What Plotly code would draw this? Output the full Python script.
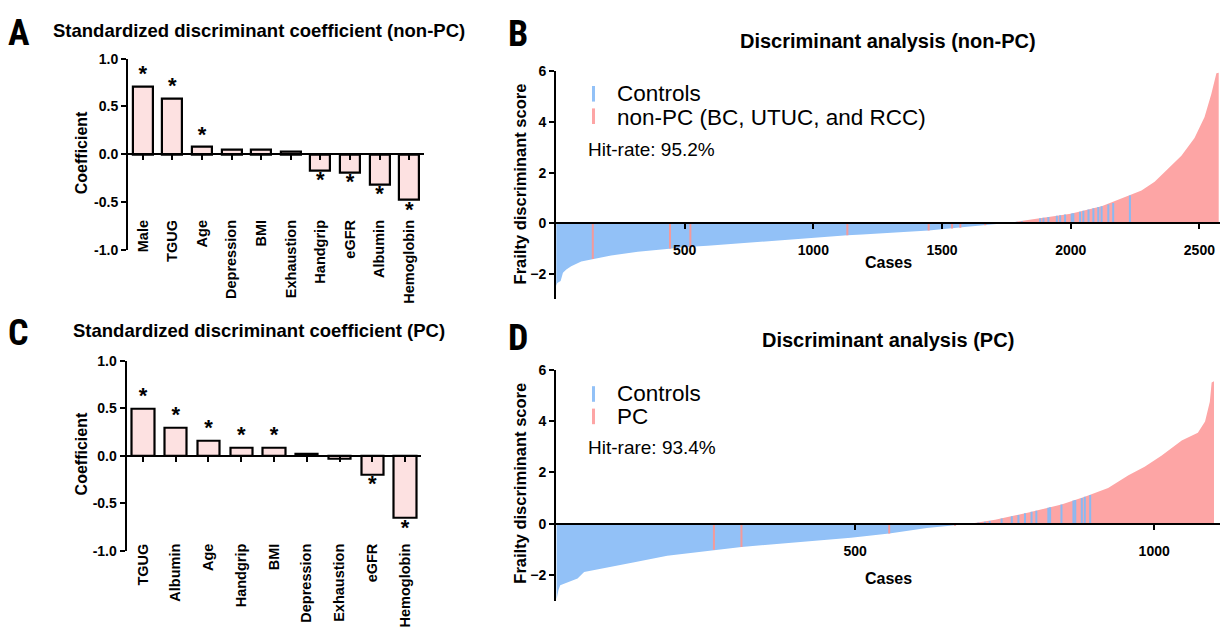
import plotly.graph_objects as go

W, H = 1225, 633

# ---------------- data ----------------
a_vars = ["Male", "TGUG", "Age", "Depression", "BMI", "Exhaustion", "Handgrip", "eGFR", "Albumin", "Hemoglobin"]
a_coef = [0.71, 0.585, 0.075, 0.05, 0.05, 0.03, -0.17, -0.19, -0.32, -0.48]
a_sig = [True, True, True, False, False, False, True, True, True, True]

c_vars = ["TGUG", "Albumin", "Age", "Handgrip", "BMI", "Depression", "Exhaustion", "eGFR", "Hemoglobin"]
c_coef = [0.494, 0.30, 0.157, 0.085, 0.085, 0.02, -0.03, -0.195, -0.655]
c_sig = [True, True, True, True, True, False, False, True, True]

coef_ticks = [-1.0, -0.5, 0.0, 0.5, 1.0]
coef_ticktext = ["-1.0", "-0.5", "0.0", "0.5", "1.0"]

# Panel B: sorted frailty discriminant scores
b_ctrl_case = [1, 5, 18, 27, 40, 59, 98, 143, 214, 318, 443, 522, 589, 750, 892, 1132, 1190, 1229, 1448, 1577, 1668, 1733]
b_ctrl_score = [-2.46, -2.35, -2.27, -1.95, -1.82, -1.69, -1.50, -1.40, -1.27, -1.12, -0.99, -0.92, -0.88, -0.76, -0.63, -0.47, -0.44, -0.42, -0.28, -0.15, -0.07, 0.0]
b_case_case = [1733, 1780, 1860, 2000, 2120, 2229, 2275, 2326, 2378, 2430, 2481, 2520, 2546, 2566, 2575]
b_case_score = [0.0, 0.05, 0.17, 0.38, 0.68, 1.10, 1.30, 1.64, 2.15, 2.67, 3.37, 4.20, 5.10, 5.93, 5.95]
b_mis_case = [143, 443, 522, 1132, 1448, 1539, 1571, 1668]
b_mis_score = [-1.40, -0.99, -0.92, -0.47, -0.28, -0.20, -0.17, -0.07]
b_mis_ctrl = [1771, 1790, 1810, 1881, 1894, 1913, 1946, 1959, 1978, 2004, 2010, 2036, 2049, 2069, 2088, 2107, 2120, 2146, 2165, 2230]
b_mis_ctrl_score = [0.04, 0.07, 0.09, 0.20, 0.22, 0.25, 0.30, 0.32, 0.35, 0.39, 0.40, 0.46, 0.50, 0.55, 0.60, 0.65, 0.68, 0.75, 0.81, 1.10]

# Panel D
d_ctrl_case = [1, 4, 7, 20, 36, 47, 75, 131, 186, 264, 310, 364, 493, 557, 620, 692]
d_ctrl_score = [-2.95, -2.60, -2.40, -2.27, -2.14, -1.88, -1.76, -1.50, -1.25, -1.02, -0.91, -0.80, -0.55, -0.38, -0.17, 0.0]
d_case_case = [692, 734, 790, 845, 884, 923, 957, 984, 1012, 1046, 1073, 1085, 1093, 1096, 1100]
d_case_score = [0.0, 0.15, 0.43, 0.75, 1.05, 1.39, 1.88, 2.22, 2.64, 3.24, 3.54, 3.98, 4.75, 5.50, 5.55]
d_mis_case = [264, 310, 557, 667]
d_mis_score = [-1.02, -0.91, -0.38, -0.08]
d_mis_ctrl = [706, 717, 725, 745, 762, 773, 784, 795, 803, 823, 826, 845, 865, 868, 879, 884, 893]
d_mis_ctrl_score = [0.04, 0.07, 0.10, 0.20, 0.29, 0.34, 0.40, 0.46, 0.50, 0.62, 0.64, 0.75, 0.90, 0.92, 1.00, 1.05, 1.12]

score_ticks = [-2, 0, 2, 4, 6]
b_xticks = [500, 1000, 1500, 2000, 2500]
d_xticks = [500, 1000]

# ---------------- style ----------------
BLUE = "#92c1f7"
RED = "#fda5a5"
PINK = "#fde1e1"
ARIAL = "Liberation Sans"
COND = "Roboto Condensed"


def px_x(p):
    return p / W


def px_y(p):
    return 1 - p / H


fig = go.Figure()


# --- bar panels A and C ---
def coef_panel(cats, vals, sig, xa, ya):
    fig.add_trace(go.Bar(x=cats, y=vals, xaxis=xa, yaxis=ya, width=0.68,
                         marker=dict(color=PINK, line=dict(color="black", width=2.2)),
                         showlegend=False, hoverinfo="skip"))
    fig.add_trace(go.Scatter(x=cats, y=vals, xaxis=xa, yaxis=ya, mode="text",
                             text=["*" if s else "" for s in sig],
                             textposition=["top center" if v > 0 else "bottom center" for v in vals],
                             textfont=dict(size=22, color="black", family=ARIAL, weight="bold"),
                             cliponaxis=False, showlegend=False, hoverinfo="skip"))


coef_panel(a_vars, a_coef, a_sig, "x", "y")
coef_panel(c_vars, c_coef, c_sig, "x3", "y3")


# --- waterfall panels B and D ---
def stripes(cases, scores):
    xs, ys = [], []
    for c, s in zip(cases, scores):
        xs += [c, c, None]
        ys += [0, s, None]
    return xs, ys


def score_panel(cc, cs, kc, ks, mc, ms, mk, mks, xa, ya):
    fig.add_trace(go.Scatter(x=cc, y=cs, xaxis=xa, yaxis=ya, mode="lines", fill="tozeroy",
                             fillcolor=BLUE, line=dict(width=0, color=BLUE),
                             showlegend=False, hoverinfo="skip"))
    fig.add_trace(go.Scatter(x=kc, y=ks, xaxis=xa, yaxis=ya, mode="lines", fill="tozeroy",
                             fillcolor=RED, line=dict(width=0, color=RED),
                             showlegend=False, hoverinfo="skip"))
    sx, sy = stripes(mc, ms)
    fig.add_trace(go.Scatter(x=sx, y=sy, xaxis=xa, yaxis=ya, mode="lines",
                             line=dict(width=2, color="#f49a9a"), connectgaps=False,
                             showlegend=False, hoverinfo="skip"))
    sx, sy = stripes(mk, mks)
    fig.add_trace(go.Scatter(x=sx, y=sy, xaxis=xa, yaxis=ya, mode="lines",
                             line=dict(width=2, color="#8ab9f2"), connectgaps=False,
                             showlegend=False, hoverinfo="skip"))


score_panel(b_ctrl_case, b_ctrl_score, b_case_case, b_case_score, b_mis_case, b_mis_score,
            b_mis_ctrl, b_mis_ctrl_score, "x2", "y2")
score_panel(d_ctrl_case, d_ctrl_score, d_case_case, d_case_score, d_mis_case, d_mis_score,
            d_mis_ctrl, d_mis_ctrl_score, "x4", "y4")


# ---------------- axes ----------------
def zero_pos(dom, rng):
    return dom[0] + (0 - rng[0]) / (rng[1] - rng[0]) * (dom[1] - dom[0])


axis_common = dict(showgrid=False, zeroline=False, showline=True, linecolor="black",
                   linewidth=2, ticks="outside", tickwidth=2, ticklen=5, tickcolor="black")

a_xdom = [px_x(128), px_x(424)]
a_ydom = [px_y(248), px_y(52)]
a_rng = [-1, 1]
c_xdom = [px_x(126.6), px_x(421.4)]
c_ydom = [px_y(557), px_y(362)]
b_xdom = [px_x(556), px_x(1220)]
b_ydom = [px_y(299), px_y(65)]
s_rng = [-3, 6]
d_xdom = [px_x(556), px_x(1220)]
d_ydom = [px_y(608), px_y(371)]

cat_font = dict(family=ARIAL, size=14.5, color="black", weight="bold")
num_font = dict(family=ARIAL, size=14, color="black", weight="bold")
sc_font = dict(family=ARIAL, size=14, color="black", weight="bold")

fig.update_layout(
    xaxis=dict(domain=a_xdom, anchor="free", position=zero_pos(a_ydom, a_rng),
               type="category", range=[-0.5, len(a_vars) - 0.5], tickangle=-90,
               tickfont=cat_font, ticklabelstandoff=54, **axis_common),
    yaxis=dict(domain=a_ydom, anchor="x", range=a_rng, tickvals=coef_ticks, ticktext=coef_ticktext,
               tickfont=num_font, **axis_common),
    xaxis3=dict(domain=c_xdom, anchor="free", position=zero_pos(c_ydom, a_rng),
                type="category", range=[-0.5, len(c_vars) - 0.5], tickangle=-90,
                tickfont=cat_font, ticklabelstandoff=76, **axis_common),
    yaxis3=dict(domain=c_ydom, anchor="x3", range=a_rng, tickvals=coef_ticks, ticktext=coef_ticktext,
                tickfont=num_font, **axis_common),
    xaxis2=dict(domain=b_xdom, anchor="free", position=zero_pos(b_ydom, s_rng),
                range=[0, 2580], tickvals=b_xticks, tickfont=sc_font, ticklabelstandoff=9,
                **axis_common),
    yaxis2=dict(domain=b_ydom, anchor="x2", range=s_rng, tickvals=score_ticks,
                tickfont=sc_font, **axis_common),
    xaxis4=dict(domain=d_xdom, anchor="free", position=zero_pos(d_ydom, s_rng),
                range=[0, 1110], tickvals=d_xticks, tickfont=sc_font, ticklabelstandoff=10,
                **axis_common),
    yaxis4=dict(domain=d_ydom, anchor="x4", range=s_rng, tickvals=score_ticks,
                tickfont=sc_font, **axis_common),
    width=W, height=H, margin=dict(l=0, r=0, t=0, b=0),
    paper_bgcolor="white", plot_bgcolor="rgba(0,0,0,0)",
    bargap=0, barmode="overlay", showlegend=False,
)

# ---------------- text ----------------
ann = []


def text(s, x, y, size, family, xanchor="center", yanchor="middle", angle=0):
    ann.append(dict(text=s, x=px_x(x), y=px_y(y), xref="paper", yref="paper", showarrow=False,
                    xanchor=xanchor, yanchor=yanchor, textangle=angle,
                    font=dict(size=size, family=family, color="black")))


# panel letters
text("<b>A</b>", 6, 26, 36, COND, xanchor="left")
text("<b>B</b>", 506, 27, 36, COND, xanchor="left")
text("<b>C</b>", 6, 333, 36, COND, xanchor="left")
text("<b>D</b>", 506, 339, 36, COND, xanchor="left")

# panel titles
text("<b>Standardized discriminant coefficient (non-PC)</b>", 51, 23, 18.5, ARIAL, xanchor="left")
text("<b>Standardized discriminant coefficient (PC)</b>", 71, 331, 18.5, ARIAL, xanchor="left")
text("<b>Discriminant analysis (non-PC)</b>", 888, 34, 20, ARIAL)
text("<b>Discriminant analysis (PC)</b>", 888, 341, 20, ARIAL)

# axis titles
text("<b>Coefficient</b>", 81, 149, 16, ARIAL, angle=-90)
text("<b>Coefficient</b>", 81, 458, 16, ARIAL, angle=-90)
text("<b>Frailty discriminant score</b>", 520, 181, 16.5, ARIAL, angle=-90)
text("<b>Frailty discriminant score</b>", 520, 488, 16.5, ARIAL, angle=-90)
text("<b>Cases</b>", 888, 261, 16, ARIAL)
text("<b>Cases</b>", 888, 585, 16, ARIAL)

# legends
text("Controls", 615, 88, 22.5, ARIAL, xanchor="left")
text("non-PC (BC, UTUC, and RCC)", 615, 112, 22.5, ARIAL, xanchor="left")
text("Hit-rate: 95.2%", 586, 145, 19, ARIAL, xanchor="left")
text("Controls", 615, 396, 22.5, ARIAL, xanchor="left")
text("PC", 615, 419, 22.5, ARIAL, xanchor="left")
text("Hit-rare: 93.4%", 586, 451, 19, ARIAL, xanchor="left")

shapes = []
for (yc, col) in [(88, BLUE), (111, RED), (396, BLUE), (419, RED)]:
    shapes.append(dict(type="rect", xref="paper", yref="paper",
                       x0=px_x(592), x1=px_x(595), y0=px_y(yc + 8), y1=px_y(yc - 8),
                       fillcolor=col, line=dict(width=0)))

fig.update_layout(annotations=ann, shapes=shapes)

fig.write_html("out.html")
